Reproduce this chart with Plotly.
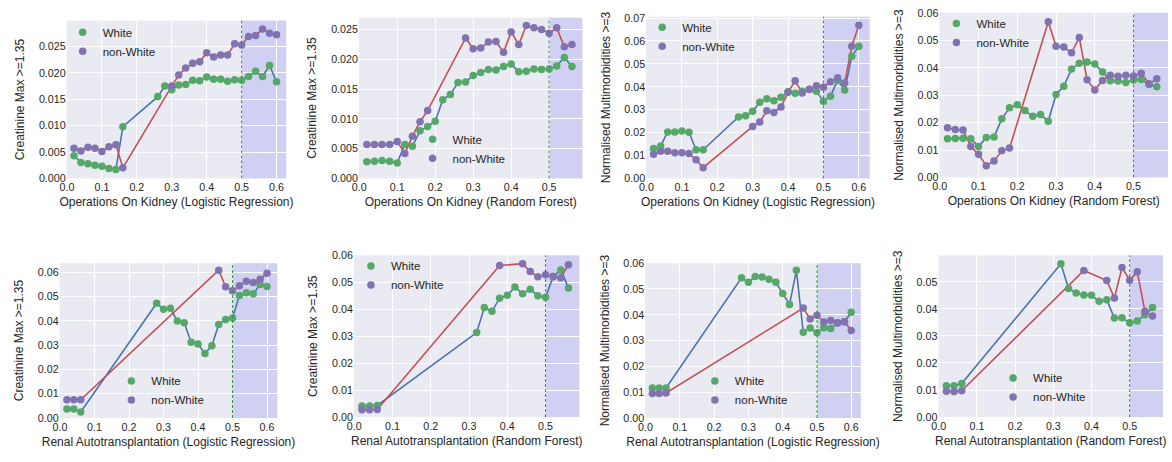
import plotly.graph_objects as go

# ---------------- DATA ----------------
# Panel 1: Operations On Kidney (Logistic Regression) - Creatinine
p1_white_x = [0.02, 0.04, 0.06, 0.08, 0.10, 0.12, 0.14, 0.16, 0.26, 0.28, 0.30, 0.32, 0.34, 0.36, 0.38, 0.40,
              0.42, 0.44, 0.46, 0.48, 0.50, 0.52, 0.54, 0.56, 0.58, 0.60]
p1_white_y = [0.0043, 0.0030, 0.0028, 0.0025, 0.0023, 0.0019, 0.0017, 0.0098, 0.0155, 0.0175, 0.0168, 0.0177,
              0.0178, 0.0186, 0.0185, 0.0192, 0.0188, 0.0188, 0.0184, 0.0187, 0.0186, 0.0193, 0.0203, 0.0193,
              0.0214, 0.0183]
p1_nonwhite_x = [0.02, 0.04, 0.06, 0.08, 0.10, 0.12, 0.14, 0.16, 0.30, 0.32, 0.34, 0.36, 0.38, 0.40, 0.42, 0.44,
                 0.46, 0.48, 0.50, 0.52, 0.54, 0.56, 0.58, 0.60]
p1_nonwhite_y = [0.0057, 0.0052, 0.0059, 0.0057, 0.0051, 0.0060, 0.0064, 0.0020, 0.0175, 0.0196, 0.0209, 0.0218,
                 0.0221, 0.0238, 0.0230, 0.0234, 0.0234, 0.0255, 0.0253, 0.0269, 0.0271, 0.0283, 0.0275, 0.0272]

# Panel 2: Operations On Kidney (Random Forest) - Creatinine
p2_white_x = [0.02, 0.04, 0.06, 0.08, 0.10, 0.12, 0.14, 0.16, 0.18, 0.20, 0.22, 0.24, 0.26, 0.28, 0.30, 0.32,
              0.34, 0.36, 0.38, 0.40, 0.42, 0.44, 0.46, 0.48, 0.50, 0.52, 0.54, 0.56]
p2_white_y = [0.0028, 0.0029, 0.0030, 0.0029, 0.0026, 0.0057, 0.0054, 0.0080, 0.0087, 0.0096, 0.0132, 0.0141,
              0.0161, 0.0162, 0.0173, 0.0178, 0.0183, 0.0182, 0.0188, 0.0192, 0.0179, 0.0180, 0.0184, 0.0183,
              0.0184, 0.0189, 0.0203, 0.0188]
p2_nonwhite_x = [0.02, 0.04, 0.06, 0.08, 0.10, 0.12, 0.14, 0.16, 0.18, 0.28, 0.30, 0.32, 0.34, 0.36, 0.38, 0.40,
                 0.42, 0.44, 0.46, 0.48, 0.50, 0.52, 0.54, 0.56]
p2_nonwhite_y = [0.0057, 0.0057, 0.0057, 0.0057, 0.0062, 0.0042, 0.0071, 0.0095, 0.0114, 0.0236, 0.0218, 0.0219,
                 0.0229, 0.0230, 0.0212, 0.0246, 0.0225, 0.0257, 0.0253, 0.0250, 0.0244, 0.0253, 0.0221, 0.0225]

# Panel 3: Operations On Kidney (Logistic Regression) - Multimorbidities
p3_white_x = [0.02, 0.04, 0.06, 0.08, 0.10, 0.12, 0.14, 0.16, 0.26, 0.28, 0.30, 0.32, 0.34, 0.36, 0.38, 0.40,
              0.42, 0.44, 0.46, 0.48, 0.50, 0.52, 0.54, 0.56, 0.58, 0.60]
p3_white_y = [0.0131, 0.0142, 0.0203, 0.0203, 0.0207, 0.0202, 0.0125, 0.0125, 0.0268, 0.0274, 0.0293, 0.0332,
              0.0348, 0.0339, 0.0354, 0.0378, 0.0372, 0.0380, 0.0389, 0.0380, 0.0337, 0.0359, 0.0429, 0.0386,
              0.0533, 0.0577]
p3_nonwhite_x = [0.02, 0.04, 0.06, 0.08, 0.10, 0.12, 0.14, 0.16, 0.30, 0.32, 0.34, 0.36, 0.38, 0.40, 0.42, 0.44,
                 0.46, 0.48, 0.50, 0.52, 0.54, 0.56, 0.58, 0.60]
p3_nonwhite_y = [0.0105, 0.0119, 0.0118, 0.0112, 0.0112, 0.0109, 0.0081, 0.0047, 0.0227, 0.0246, 0.0295, 0.0288,
                 0.0312, 0.0376, 0.0426, 0.0373, 0.0388, 0.0405, 0.0398, 0.0422, 0.0439, 0.0417, 0.0577, 0.0669]

# Panel 4: Operations On Kidney (Random Forest) - Multimorbidities
p4_white_x = [0.02, 0.04, 0.06, 0.08, 0.10, 0.12, 0.14, 0.16, 0.18, 0.20, 0.22, 0.24, 0.26, 0.28, 0.30, 0.32,
              0.34, 0.36, 0.38, 0.40, 0.42, 0.44, 0.46, 0.48, 0.50, 0.52, 0.54, 0.56]
p4_white_y = [0.0141, 0.0142, 0.0143, 0.0141, 0.0113, 0.0146, 0.0148, 0.0214, 0.0254, 0.0265, 0.0244, 0.0223,
              0.0230, 0.0205, 0.0303, 0.0333, 0.0396, 0.0417, 0.0421, 0.0414, 0.0385, 0.0353, 0.0352, 0.0347,
              0.0356, 0.0358, 0.0339, 0.0331]
p4_nonwhite_x = [0.02, 0.04, 0.06, 0.08, 0.10, 0.12, 0.14, 0.16, 0.18, 0.28, 0.30, 0.32, 0.34, 0.36, 0.38, 0.40,
                 0.42, 0.44, 0.46, 0.48, 0.50, 0.52, 0.54, 0.56]
p4_nonwhite_y = [0.0181, 0.0175, 0.0173, 0.0113, 0.0085, 0.0043, 0.0060, 0.0097, 0.0107, 0.0568, 0.0479, 0.0476,
                 0.0455, 0.0511, 0.0357, 0.0319, 0.0354, 0.0373, 0.0369, 0.0373, 0.0370, 0.0380, 0.0342, 0.0360]

# Panel 5: Renal Autotransplantation (Logistic Regression) - Creatinine
p5_white_x = [0.02, 0.04, 0.06, 0.28, 0.30, 0.32, 0.34, 0.36, 0.38, 0.40, 0.42, 0.44, 0.46, 0.48, 0.50, 0.52,
              0.54, 0.56, 0.58, 0.60]
p5_white_y = [0.0037, 0.0037, 0.0025, 0.0472, 0.0447, 0.0451, 0.0399, 0.0392, 0.0312, 0.0304, 0.0265, 0.0297,
              0.0385, 0.0405, 0.0411, 0.0504, 0.0515, 0.0511, 0.0549, 0.0541]
p5_nonwhite_x = [0.02, 0.04, 0.06, 0.46, 0.48, 0.50, 0.52, 0.54, 0.56, 0.58, 0.60]
p5_nonwhite_y = [0.0075, 0.0075, 0.0075, 0.0608, 0.0540, 0.0523, 0.0544, 0.0563, 0.0557, 0.0571, 0.0595]

# Panel 6: Renal Autotransplantation (Random Forest) - Creatinine
p6_white_x = [0.02, 0.04, 0.06, 0.32, 0.34, 0.36, 0.38, 0.40, 0.42, 0.44, 0.46, 0.48, 0.50, 0.52, 0.54, 0.56]
p6_white_y = [0.0041, 0.0041, 0.0043, 0.0314, 0.0407, 0.0393, 0.0442, 0.0453, 0.0483, 0.0458, 0.0475, 0.0451,
              0.0445, 0.0522, 0.0547, 0.0480]
p6_nonwhite_x = [0.02, 0.04, 0.06, 0.38, 0.44, 0.46, 0.48, 0.50, 0.52, 0.54, 0.56]
p6_nonwhite_y = [0.0027, 0.0027, 0.0028, 0.0563, 0.0570, 0.0541, 0.0521, 0.0529, 0.0522, 0.0518, 0.0566]

# Panel 7: Renal Autotransplantation (Logistic Regression) - Multimorbidities
p7_white_x = [0.02, 0.04, 0.06, 0.28, 0.30, 0.32, 0.34, 0.36, 0.38, 0.40, 0.42, 0.44, 0.46, 0.48, 0.50, 0.52,
              0.54, 0.56, 0.58, 0.60]
p7_white_y = [0.0116, 0.0116, 0.0116, 0.0543, 0.0526, 0.0548, 0.0546, 0.0538, 0.0526, 0.0482, 0.0440, 0.0572,
              0.0332, 0.0349, 0.0330, 0.0350, 0.0347, 0.0369, 0.0373, 0.0410]
p7_nonwhite_x = [0.02, 0.04, 0.06, 0.46, 0.48, 0.50, 0.52, 0.54, 0.56, 0.58, 0.60]
p7_nonwhite_y = [0.0095, 0.0095, 0.0097, 0.0426, 0.0384, 0.0398, 0.0372, 0.0378, 0.0368, 0.0373, 0.0339]

# Panel 8: Renal Autotransplantation (Random Forest) - Multimorbidities
p8_white_x = [0.02, 0.04, 0.06, 0.32, 0.34, 0.36, 0.38, 0.40, 0.42, 0.44, 0.46, 0.48, 0.50, 0.52, 0.54, 0.56]
p8_white_y = [0.0116, 0.0116, 0.0124, 0.0567, 0.0475, 0.0459, 0.0451, 0.0450, 0.0428, 0.0434, 0.0366, 0.0367,
              0.0349, 0.0355, 0.0378, 0.0405]
p8_nonwhite_x = [0.02, 0.04, 0.06, 0.38, 0.44, 0.46, 0.48, 0.50, 0.52, 0.54, 0.56]
p8_nonwhite_y = [0.0095, 0.0094, 0.0097, 0.0542, 0.0505, 0.0440, 0.0553, 0.0506, 0.0537, 0.0391, 0.0374]

x_titles = [
    "Operations On Kidney (Logistic Regression)",
    "Operations On Kidney (Random Forest)",
    "Operations On Kidney (Logistic Regression)",
    "Operations On Kidney (Random Forest)",
    "Renal Autotransplantation (Logistic Regression)",
    "Renal Autotransplantation (Random Forest)",
    "Renal Autotransplantation (Logistic Regression)",
    "Renal Autotransplantation (Random Forest)",
]
y_titles = [
    "Creatinine Max >=1.35", "Creatinine Max >=1.35",
    "Normalised Multimorbidities >=3", "Normalised Multimorbidities >=3",
    "Creatinine Max >=1.35", "Creatinine Max >=1.35",
    "Normalised Multimorbidities >=3", "Normalised Multimorbidities >=3",
]
series_names = ["White", "non-White"]
threshold = 0.5

panels = [
    (p1_white_x, p1_white_y, p1_nonwhite_x, p1_nonwhite_y),
    (p2_white_x, p2_white_y, p2_nonwhite_x, p2_nonwhite_y),
    (p3_white_x, p3_white_y, p3_nonwhite_x, p3_nonwhite_y),
    (p4_white_x, p4_white_y, p4_nonwhite_x, p4_nonwhite_y),
    (p5_white_x, p5_white_y, p5_nonwhite_x, p5_nonwhite_y),
    (p6_white_x, p6_white_y, p6_nonwhite_x, p6_nonwhite_y),
    (p7_white_x, p7_white_y, p7_nonwhite_x, p7_nonwhite_y),
    (p8_white_x, p8_white_y, p8_nonwhite_x, p8_nonwhite_y),
]

# ---------------- LAYOUT (pixels) ----------------
W, H = 1172, 462
# plot-area boxes: left, right, top, bottom (px)
boxes = [
    (60, 281, 15, 177), (354, 579, 12, 177), (643, 868, 11, 177), (938, 1168, 7, 176),
    (53, 272, 264, 423), (349, 576, 256, 422), (642, 859, 264, 423), (937, 1163, 256, 422),
]
x_ranges = [
    (-0.001, 0.628), (-0.001, 0.588), (-0.001, 0.631), (-0.001, 0.589),
    (-0.001, 0.630), (-0.001, 0.589), (-0.001, 0.628), (-0.001, 0.5875),
]
y_ranges = [
    (0, 0.0299), (0, 0.0270), (0, 0.0706), (0, 0.0601),
    (0, 0.0637), (0, 0.0601), (0, 0.0600), (0, 0.0598),
]
y_dticks = [0.005, 0.005, 0.01, 0.01, 0.01, 0.01, 0.01, 0.01]
y_formats = [".3f", ".3f", ".2f", ".2f", ".2f", ".2f", ".2f", ".2f"]
# legend first-marker position (px)
legend_pos = [
    (82, 32), (434, 142), (665, 27), (961, 23),
    (131, 390), (372, 272), (718, 390), (1018, 387),
]

LINE_W = "#4c72b0"
LINE_NW = "#c44e52"
MK_W = "#55a868"
MK_NW = "#8172b2"
FONT = "Liberation Sans, Arial, sans-serif"
TXT = "#262626"

fig = go.Figure()
layout = dict(
    width=W, height=H, margin=dict(l=0, r=0, t=0, b=0), autosize=False,
    paper_bgcolor="white", plot_bgcolor="#eaeaf2",
    font=dict(family=FONT, color=TXT, size=12),
    showlegend=True,
)
shapes = []

for i, (wx, wy, nx, ny) in enumerate(panels):
    k = i + 1
    xa = "x" if k == 1 else f"x{k}"
    ya = "y" if k == 1 else f"y{k}"
    lg = "legend" if k == 1 else f"legend{k}"
    # lines
    fig.add_trace(go.Scatter(x=wx, y=wy, mode="lines", line=dict(color=LINE_W, width=1.6),
                             xaxis=xa, yaxis=ya, showlegend=False, hoverinfo="skip"))
    fig.add_trace(go.Scatter(x=nx, y=ny, mode="lines", line=dict(color=LINE_NW, width=1.6),
                             xaxis=xa, yaxis=ya, showlegend=False, hoverinfo="skip"))
    # markers
    fig.add_trace(go.Scatter(x=wx, y=wy, mode="markers", name=series_names[0],
                             marker=dict(color=MK_W, size=7.5), xaxis=xa, yaxis=ya, legend=lg))
    fig.add_trace(go.Scatter(x=nx, y=ny, mode="markers", name=series_names[1],
                             marker=dict(color=MK_NW, size=7.5), xaxis=xa, yaxis=ya, legend=lg))

    l, r, t, b = boxes[i]
    xkey = "xaxis" if k == 1 else f"xaxis{k}"
    ykey = "yaxis" if k == 1 else f"yaxis{k}"
    layout[xkey] = dict(
        domain=[l / W, r / W], anchor=ya, range=list(x_ranges[i]),
        dtick=0.1, tick0=0, tickformat=".1f", showgrid=True, gridcolor="white", gridwidth=1,
        zeroline=False, showline=False, ticks="", tickfont=dict(size=10.7, color=TXT),
        ticklabelstandoff=1,
        title=dict(text=x_titles[i], font=dict(size=12, color=TXT), standoff=5),
    )
    layout[ykey] = dict(
        domain=[1 - b / H, 1 - t / H], anchor=xa, range=list(y_ranges[i]),
        dtick=y_dticks[i], tick0=0, tickformat=y_formats[i], showgrid=True, gridcolor="white", gridwidth=1,
        zeroline=False, showline=False, ticks="", tickfont=dict(size=10.7, color=TXT),
        title=dict(text=y_titles[i], font=dict(size=12, color=TXT), standoff=11),
    )
    mx, my = legend_pos[i]
    layout[lg] = dict(
        x=(mx - 26) / W, y=1 - (my - 20) / H, xanchor="left", yanchor="top",
        bgcolor="rgba(0,0,0,0)", borderwidth=0, font=dict(size=11.5, color=TXT),
    )
    # shaded region and threshold line
    shapes.append(dict(type="rect", xref=xa, yref="paper", x0=threshold, x1=x_ranges[i][1],
                       y0=1 - b / H, y1=1 - t / H, fillcolor="rgba(0,0,255,0.11)",
                       line=dict(width=0), layer="below"))
    shapes.append(dict(type="line", xref=xa, yref="paper", x0=threshold, x1=threshold,
                       y0=1 - b / H, y1=1 - t / H,
                       line=dict(color="#2a9a3a", width=1, dash="3px,2px"), layer="above"))

layout["shapes"] = shapes
fig.update_layout(**layout)
fig.write_html("out.html", config={"displayModeBar": False},
               post_script="document.body.style.margin='0';document.body.style.overflow='hidden';")
